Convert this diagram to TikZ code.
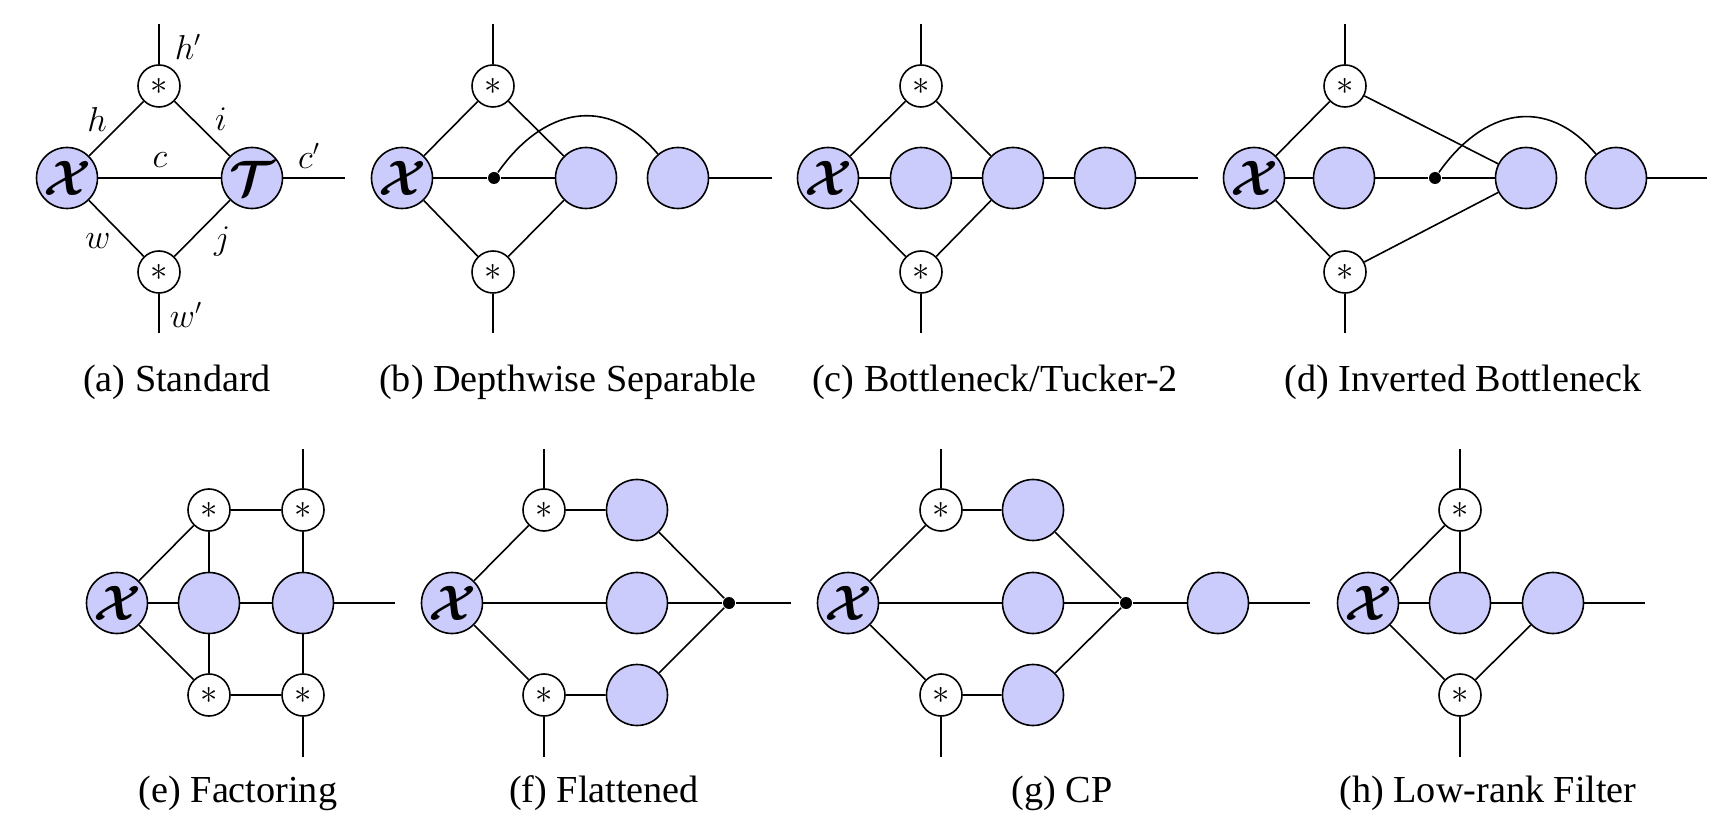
\documentclass[tikz,border=0pt]{standalone}
\usepackage{fontspec}
\setmainfont{Liberation Serif}
\usepackage{amsmath}
\usepackage{bm}
\definecolor{tfill}{RGB}{204,204,252}
\newcommand{\tensX}{{\fontsize{27}{30}\selectfont$\bm{\mathcal{X}}$}}
\newcommand{\tensT}{{\fontsize{27}{30}\selectfont$\bm{\mathcal{T}}$}}
\newcommand{\astk}{{\fontsize{19}{21}\selectfont$\ast$}}
\tikzset{
  big/.style={circle, draw, fill=tfill, minimum size=30.5pt, inner sep=0pt},
  small/.style={circle, draw, fill=white, minimum size=21pt, inner sep=0pt},
  junc/.style={circle, fill=black, minimum size=6pt, inner sep=0pt},
  lbl/.style={font=\fontsize{16}{18}\selectfont, inner sep=0pt},
  captext/.style={font=\fontsize{19.1}{22}\selectfont, inner sep=0pt},
}
\begin{document}
\begin{tikzpicture}[x=0.5pt,y=0.5pt,line width=0.8pt]
\useasboundingbox (0,0) rectangle (1734,836);

% ---------------- (a) Standard
\node[big] (aX) at (67,658) {\tensX};
\node[big] (aT) at (252,658) {\tensT};
\node[small] (aS1) at (159,750) {\astk};
\node[small] (aS2) at (159,564) {\astk};
\coordinate (aU) at (159,812);
\coordinate (aD) at (159,503);
\coordinate (aR) at (345,658);
\draw (aX) -- (aS1) -- (aT);
\draw (aX) -- (aS2) -- (aT);
\draw (aX) -- (aT) -- (aR);
\draw (aS1) -- (aU);
\draw (aS2) -- (aD);
\node[lbl] (lhp) at (188,789) {$h'$};
\node[lbl] (lh) at (97,716) {$h$};
\node[lbl] (li) at (221,717) {$i$};
\node[lbl] (lc) at (160,676) {$c$};
\node[lbl] (lcp) at (309,680) {$c'$};
\node[lbl] (lw) at (98,595) {$w$};
\node[lbl] (lj) at (222,594) {$j$};
\node[lbl] (lwp) at (186,521) {$w'$};
\node[captext] (capa) at (177,454) {(a) Standard};

% ---------------- (b) Depthwise Separable
\node[big] (bX) at (402,658) {\tensX};
\node[small] (bS1) at (493,750) {\astk};
\node[small] (bS2) at (493,564) {\astk};
\node[junc] (bD) at (494,658) {};
\node[big] (bA) at (586,658) {};
\node[big] (bB) at (678,658) {};
\coordinate (bU) at (493,812);
\coordinate (bL) at (493,503);
\coordinate (bR) at (772,658);
\draw (bX) -- (bS1) -- (bA);
\draw (bX) -- (bS2) -- (bA);
\draw (bX) -- (bD) -- (bA);
\draw (bD) to[out=55,in=130,looseness=1.25] (bB);
\draw (bB) -- (bR);
\draw (bS1) -- (bU);
\draw (bS2) -- (bL);
\node[captext] (capb) at (568,454) {(b) Depthwise Separable};

% ---------------- (c) Bottleneck/Tucker-2
\node[big] (cX) at (828,658) {\tensX};
\node[small] (cS1) at (921,750) {\astk};
\node[small] (cS2) at (921,564) {\astk};
\node[big] (cA) at (921,658) {};
\node[big] (cB) at (1013,658) {};
\node[big] (cC) at (1105,658) {};
\coordinate (cU) at (921,812);
\coordinate (cL) at (921,503);
\coordinate (cR) at (1198,658);
\draw (cX) -- (cS1) -- (cB);
\draw (cX) -- (cS2) -- (cB);
\draw (cX) -- (cA) -- (cB) -- (cC) -- (cR);
\draw (cS1) -- (cU);
\draw (cS2) -- (cL);
\node[captext] (capc) at (995,454) {(c) Bottleneck/Tucker-2};

% ---------------- (d) Inverted Bottleneck
\node[big] (dX) at (1254,658) {\tensX};
\node[small] (dS1) at (1345,750) {\astk};
\node[small] (dS2) at (1345,564) {\astk};
\node[big] (dA) at (1344,658) {};
\node[junc] (dD) at (1435,658) {};
\node[big] (dB) at (1526,658) {};
\node[big] (dC) at (1616,658) {};
\coordinate (dU) at (1345,812);
\coordinate (dL) at (1345,503);
\coordinate (dR) at (1707,658);
\draw (dX) -- (dS1) -- (dB);
\draw (dX) -- (dS2) -- (dB);
\draw (dX) -- (dA) -- (dD) -- (dB);
\draw (dD) to[out=55,in=130,looseness=1.25] (dC);
\draw (dC) -- (dR);
\draw (dS1) -- (dU);
\draw (dS2) -- (dL);
\node[captext] (capd) at (1463,454) {(d) Inverted Bottleneck};

% ---------------- (e) Factoring
\node[big] (eX) at (117,233) {\tensX};
\node[big] (eA) at (209,233) {};
\node[big] (eB) at (303,233) {};
\node[small] (eS1) at (209,326) {\astk};
\node[small] (eS2) at (303,326) {\astk};
\node[small] (eS3) at (209,141) {\astk};
\node[small] (eS4) at (303,141) {\astk};
\coordinate (eU) at (303,387);
\coordinate (eL) at (303,79);
\coordinate (eR) at (395,233);
\draw (eX) -- (eS1) -- (eS2);
\draw (eX) -- (eS3) -- (eS4);
\draw (eS1) -- (eA) -- (eS3);
\draw (eS2) -- (eB) -- (eS4);
\draw (eX) -- (eA) -- (eB) -- (eR);
\draw (eS2) -- (eU);
\draw (eS4) -- (eL);
\node[captext] (cape) at (238,43) {(e) Factoring};

% ---------------- (f) Flattened
\node[big] (fX) at (452,233) {\tensX};
\node[small] (fS1) at (544,326) {\astk};
\node[small] (fS2) at (544,141) {\astk};
\node[big] (fA) at (637,326) {};
\node[big] (fB) at (637,233) {};
\node[big] (fC) at (637,141) {};
\node[junc] (fD) at (729,233) {};
\coordinate (fU) at (544,387);
\coordinate (fL) at (544,79);
\coordinate (fR) at (791,233);
\draw (fX) -- (fS1) -- (fA) -- (fD);
\draw (fX) -- (fS2) -- (fC) -- (fD);
\draw (fX) -- (fB) -- (fD) -- (fR);
\draw (fS1) -- (fU);
\draw (fS2) -- (fL);
\node[captext] (capf) at (604,43) {(f) Flattened};

% ---------------- (g) CP
\node[big] (gX) at (848,233) {\tensX};
\node[small] (gS1) at (941,326) {\astk};
\node[small] (gS2) at (941,141) {\astk};
\node[big] (gA) at (1033,326) {};
\node[big] (gB) at (1033,233) {};
\node[big] (gC) at (1033,141) {};
\node[junc] (gD) at (1126,233) {};
\node[big] (gE) at (1218,233) {};
\coordinate (gU) at (941,387);
\coordinate (gL) at (941,79);
\coordinate (gR) at (1310,233);
\draw (gX) -- (gS1) -- (gA) -- (gD);
\draw (gX) -- (gS2) -- (gC) -- (gD);
\draw (gX) -- (gB) -- (gD) -- (gE) -- (gR);
\draw (gS1) -- (gU);
\draw (gS2) -- (gL);
\node[captext] (capg) at (1062,43) {(g) CP};

% ---------------- (h) Low-rank Filter
\node[big] (hX) at (1368,233) {\tensX};
\node[big] (hA) at (1460,233) {};
\node[big] (hB) at (1553,233) {};
\node[small] (hS1) at (1460,326) {\astk};
\node[small] (hS2) at (1460,141) {\astk};
\coordinate (hU) at (1460,387);
\coordinate (hL) at (1460,79);
\coordinate (hR) at (1645,233);
\draw (hX) -- (hS1) -- (hA);
\draw (hX) -- (hS2) -- (hB);
\draw (hX) -- (hA) -- (hB) -- (hR);
\draw (hS1) -- (hU);
\draw (hS2) -- (hL);
\node[captext] (caph) at (1488,43) {(h) Low-rank Filter};
\end{tikzpicture}
\end{document}
